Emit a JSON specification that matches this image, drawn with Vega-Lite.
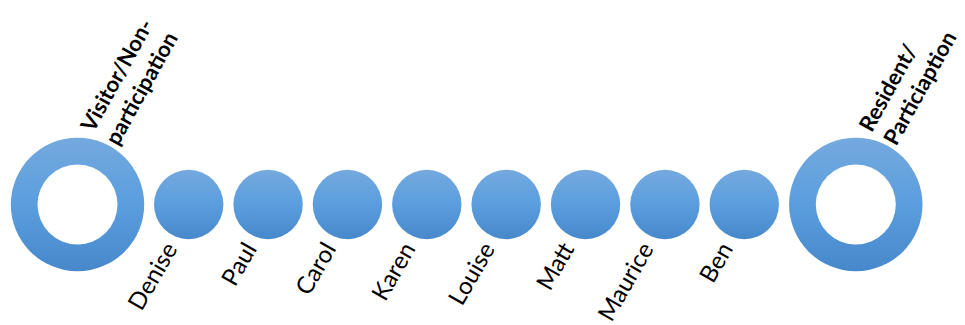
{
  "$schema": "https://vega.github.io/schema/vega-lite/v6.json",
  "width": 965,
  "height": 325,
  "padding": 0,
  "autosize": {"type": "none"},
  "background": "white",
  "config": {"view": {"stroke": null}},
  "data": {
    "values": [
      {"label": "Visitor/Non-participation", "line1": "Visitor/Non-", "line2": "participation", "kind": "end", "pos": -0.401, "level": 0},
      {"label": "Denise", "kind": "person", "pos": 1, "level": 0},
      {"label": "Paul", "kind": "person", "pos": 2, "level": 0},
      {"label": "Carol", "kind": "person", "pos": 3, "level": 0},
      {"label": "Karen", "kind": "person", "pos": 4, "level": 0},
      {"label": "Louise", "kind": "person", "pos": 5, "level": 0},
      {"label": "Matt", "kind": "person", "pos": 6, "level": 0},
      {"label": "Maurice", "kind": "person", "pos": 7, "level": 0},
      {"label": "Ben", "kind": "person", "pos": 8, "level": 0},
      {"label": "Resident/Particiaption", "line1": "Resident/", "line2": "Particiaption", "kind": "end", "pos": 9.405, "level": 0}
    ]
  },
  "encoding": {
    "x": {"field": "pos", "type": "quantitative", "scale": {"domain": [-1.3775, 10.781], "nice": false, "zero": false}, "axis": null},
    "y": {"field": "level", "type": "quantitative", "scale": {"domain": [-0.3708, 0.6292], "nice": false, "zero": false}, "axis": null}
  },
  "layer": [
    {
      "transform": [{"filter": "datum.kind === 'end'"}],
      "mark": {"type": "point", "shape": "circle", "filled": true, "size": 17796, "opacity": 1,
        "color": {"gradient": "linear", "x1": 0, "y1": 0, "x2": 0, "y2": 1,
          "stops": [{"offset": 0, "color": "#74a9de"}, {"offset": 0.5, "color": "#5b9ede"}, {"offset": 1, "color": "#4688ca"}]}}
    },
    {
      "transform": [{"filter": "datum.kind === 'end'"}],
      "mark": {"type": "point", "shape": "circle", "filled": true, "size": 6400, "opacity": 1, "color": "white"}
    },
    {
      "transform": [{"filter": "datum.kind === 'person'"}],
      "mark": {"type": "point", "shape": "circle", "filled": true, "size": 4816, "opacity": 1,
        "color": {"gradient": "linear", "x1": 0, "y1": 0, "x2": 0, "y2": 1,
          "stops": [{"offset": 0, "color": "#74a9de"}, {"offset": 0.5, "color": "#5b9ede"}, {"offset": 1, "color": "#4688ca"}]}}
    },
    {
      "transform": [{"filter": "datum.kind === 'person'"}],
      "mark": {"type": "text", "align": "right", "baseline": "middle", "angle": -60, "radius": 44, "theta": 3.53,
        "font": "Lato", "fontSize": 24, "color": "black"},
      "encoding": {"text": {"field": "label"}}
    },
    {
      "transform": [{"filter": "datum.kind === 'end'"}, {"calculate": "[datum.line1, datum.line2]", "as": "lines"}],
      "mark": {"type": "text", "align": "left", "baseline": "alphabetic", "angle": -61, "radius": 73, "theta": 0.22,
        "font": "Lato", "fontSize": 22, "fontWeight": "bold", "lineHeight": 28, "color": "black"},
      "encoding": {"text": {"field": "lines"}}
    }
  ]
}
